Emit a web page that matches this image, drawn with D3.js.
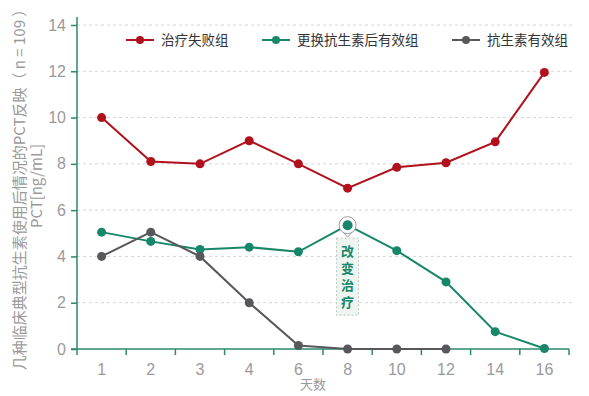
<!DOCTYPE html>
<html>
<head>
<meta charset="utf-8">
<script src="https://cdn.jsdelivr.net/npm/d3@7"></script>
<style>
  body { margin: 0; background: #fff; }
  text { font-family: "Noto Sans CJK SC", "Liberation Sans", sans-serif; }
</style>
</head>
<body>
<div id="wrapper"></div>
<script>
// data
const days = ["1", "2", "3", "4", "6", "8", "10", "12", "14", "16"];
const failGroup = [10, 8.1, 8.0, 9.0, 8.0, 6.95, 7.85, 8.05, 8.95, 11.95];
const switchGroup = [5.05, 4.65, 4.3, 4.4, 4.2, 5.35, 4.25, 2.9, 0.75, 0.02];
const effectiveGroup = [4.0, 5.05, 4.0, 2.0, 0.15, 0, 0, 0];
const seriesNames = ["治疗失败组", "更换抗生素后有效组", "抗生素有效组"];
const seriesColors = ["#b0111d", "#17866a", "#58585c"];
const yTicks = [0, 2, 4, 6, 8, 10, 12, 14];
const noteDay = "8";
const noteText = "改变治疗";

const series = [failGroup, switchGroup, effectiveGroup];

let dimensions = {
    width: 589,
    height: 396,
    margin: { top: 25, right: 20, bottom: 47, left: 77 },
}
dimensions.boundedWidth = 569 - dimensions.margin.left;
dimensions.boundedHeight = dimensions.height - dimensions.margin.top - dimensions.margin.bottom;

const wrapper = d3.select("#wrapper")
    .append("svg")
    .attr("width", dimensions.width)
    .attr("height", dimensions.height);

const bounds = wrapper.append("g")
    .attr("transform", `translate(${dimensions.margin.left},${dimensions.margin.top})`);

const xScale = d3.scaleBand()
    .domain(days)
    .range([0, dimensions.boundedWidth]);

const yScale = d3.scaleLinear()
    .domain([0, 14])
    .range([dimensions.boundedHeight, 0]);

// grid
bounds.append("g")
    .selectAll("line")
    .data(yTicks.filter(d => d > 0))
    .join("line")
    .attr("x1", 0)
    .attr("x2", 498)
    .attr("y1", d => yScale(d))
    .attr("y2", d => yScale(d))
    .attr("stroke", "#d6d6d6")
    .attr("stroke-dasharray", "3,3");

// y axis
const yAxis = bounds.append("g")
    .call(d3.axisLeft(yScale).tickValues(yTicks).tickSize(6).tickPadding(5));
yAxis.select(".domain").attr("stroke", "#2a8a6c").attr("stroke-width", 1.5)
    .attr("d", `M0,${dimensions.boundedHeight}V-8`);
yAxis.selectAll(".tick line").attr("stroke", "#2a8a6c").attr("stroke-width", 1.5);
yAxis.selectAll(".tick text").attr("fill", "#9a9a9a").style("font-size", "16px")
    .style("font-family", "Liberation Sans, sans-serif");

// x axis: tick marks on band edges
const xAxis = bounds.append("g")
    .attr("transform", `translate(0,${dimensions.boundedHeight})`);
xAxis.append("line")
    .attr("x1", -6).attr("x2", dimensions.boundedWidth)
    .attr("stroke", "#2a8a6c").attr("stroke-width", 1.5);
const edges = days.map(d => xScale(d)).concat([dimensions.boundedWidth]);
xAxis.selectAll(".edge")
    .data(edges)
    .join("line")
    .attr("class", "edge")
    .attr("x1", d => d).attr("x2", d => d)
    .attr("y1", 0).attr("y2", 6)
    .attr("stroke", "#2a8a6c").attr("stroke-width", 1.5);
xAxis.selectAll(".lbl")
    .data(days)
    .join("text")
    .attr("class", "lbl")
    .attr("x", d => xScale(d) + xScale.bandwidth() / 2)
    .attr("y", 26)
    .attr("text-anchor", "middle")
    .attr("fill", "#9a9a9a")
    .style("font-size", "16px")
    .style("font-family", "Liberation Sans, sans-serif")
    .text(d => d);

// axis titles
wrapper.append("text")
    .attr("x", 313).attr("y", 389)
    .attr("text-anchor", "middle")
    .attr("fill", "#9a9a9a")
    .style("font-size", "13px")
    .text("天数");

const yTitle = wrapper.append("text")
    .attr("transform", "translate(25,186) rotate(-90)")
    .attr("text-anchor", "middle")
    .attr("fill", "#9a9a9a")
    .style("font-size", "15px");
yTitle.append("tspan").attr("x", 0).attr("dy", 0).text("几种临床典型抗生素使用后情况的PCT反映（ n = 109 ）");
yTitle.append("tspan").attr("x", 0).attr("dy", 17).text("PCT[ng/mL]");

// lines + dots
const lineGenerator = d3.line()
    .x((d, i) => xScale(days[i]) + xScale.bandwidth() / 2)
    .y(d => yScale(d));

series.forEach((values, s) => {
    bounds.append("path")
        .attr("d", lineGenerator(values))
        .attr("fill", "none")
        .attr("stroke", seriesColors[s])
        .attr("stroke-width", 2);
    bounds.append("g")
        .selectAll("circle")
        .data(values)
        .join("circle")
        .attr("cx", (d, i) => xScale(days[i]) + xScale.bandwidth() / 2)
        .attr("cy", d => yScale(d))
        .attr("r", 4.5)
        .attr("fill", seriesColors[s]);
});

// annotation at day 8
const ni = days.indexOf(noteDay);
const nx = xScale(noteDay) + xScale.bandwidth() / 2;
const ny = yScale(switchGroup[ni]);
const note = bounds.append("g");
note.append("rect")
    .attr("x", nx - 11).attr("y", ny + 13)
    .attr("width", 22).attr("height", 77)
    .attr("fill", "#eef5f0")
    .attr("stroke", "#b9c9bf")
    .attr("stroke-dasharray", "2,2");
note.append("text")
    .attr("x", nx)
    .attr("y", ny + 19)
    .style("writing-mode", "vertical-rl")
    .style("letter-spacing", "4px")
    .attr("fill", "#17866a")
    .style("font-size", "13px")
    .style("font-weight", "bold")
    .text(noteText);
note.append("path")
    .attr("d", `M${nx - 7},${ny + 4} L${nx},${ny + 12} L${nx + 7},${ny + 4}`)
    .attr("fill", "#fff")
    .attr("stroke", "#9a9a9a");
note.append("circle")
    .attr("cx", nx).attr("cy", ny)
    .attr("r", 8.5)
    .attr("fill", "#fff")
    .attr("stroke", "#9a9a9a");
note.append("circle")
    .attr("cx", nx).attr("cy", ny)
    .attr("r", 5)
    .attr("fill", "#17866a");

// legend
const legendX = [126, 262, 452];
const legend = wrapper.append("g")
    .selectAll("g")
    .data(seriesNames)
    .join("g")
    .attr("transform", (d, i) => `translate(${legendX[i]},40)`);
legend.append("line")
    .attr("x1", 0).attr("x2", 28)
    .attr("stroke", (d, i) => seriesColors[i])
    .attr("stroke-width", 2);
legend.append("circle")
    .attr("cx", 14).attr("r", 4)
    .attr("fill", (d, i) => seriesColors[i]);
legend.append("text")
    .attr("x", 35).attr("y", 5)
    .attr("fill", "#333")
    .style("font-size", "13.5px")
    .text(d => d);
</script>
</body>
</html>
